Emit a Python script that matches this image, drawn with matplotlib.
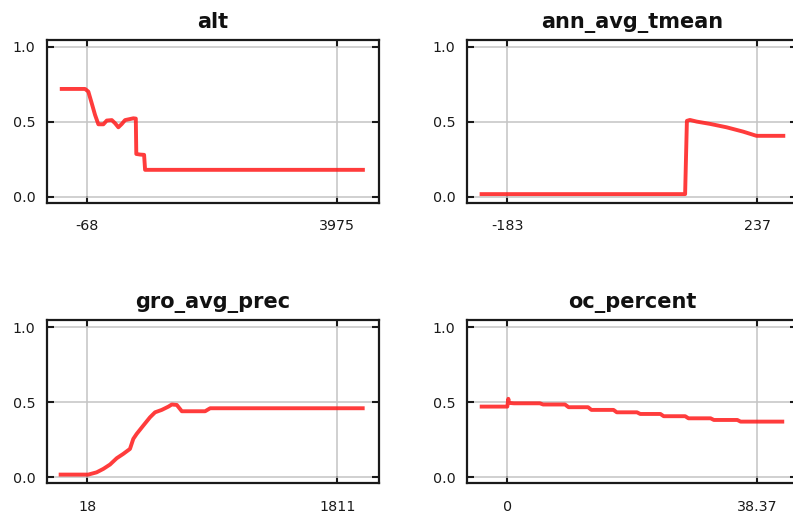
import matplotlib
matplotlib.use("Agg")
import matplotlib.pyplot as plt

plt.rcParams['font.family'] = ['DejaVu Sans']

titles = ["alt", "ann_avg_tmean", "gro_avg_prec", "oc_percent"]

alt_x = [-477, -100, -47, 8, 61, 115, 196, 251, 332, 385, 438, 493, 546, 681, 720, 728, 789, 854, 870, 4390]
alt_y = [0.718, 0.718, 0.70, 0.622, 0.545, 0.482, 0.482, 0.507, 0.51, 0.489, 0.462, 0.484, 0.51, 0.522, 0.52, 0.284, 0.28, 0.278, 0.178, 0.178]

tmean_x = [-226, 116, 119, 124, 135.5, 157.5, 185.6, 213.5, 236, 281]
tmean_y = [0.016, 0.016, 0.505, 0.511, 0.50, 0.485, 0.462, 0.433, 0.405, 0.405]

prec_x = [-173, 25, 85, 133, 181, 229, 276, 324, 348, 372, 420, 468, 504, 552, 600, 624, 660, 696, 863, 899, 1993]
prec_y = [0.018, 0.018, 0.033, 0.056, 0.085, 0.127, 0.156, 0.189, 0.256, 0.289, 0.345, 0.40, 0.433, 0.449, 0.471, 0.485, 0.482, 0.44, 0.44, 0.46, 0.46]

oc_x = [-3.93, 0.0, 0.16, 0.25, 0.45, 1.0, 5.0, 5.5, 8.86, 9.4, 12.4, 12.9, 16.3, 16.8, 19.9, 20.4, 23.5, 24.0, 27.3, 27.8, 31.2, 31.7, 35.3, 35.8, 42.2]
oc_y = [0.471, 0.471, 0.523, 0.495, 0.495, 0.493, 0.493, 0.485, 0.485, 0.467, 0.467, 0.449, 0.449, 0.433, 0.433, 0.422, 0.422, 0.407, 0.407, 0.393, 0.393, 0.382, 0.382, 0.371, 0.371]

xticks = [[-68, 3975], [-183, 237], [18, 1811], [0, 38.37]]
xticklabels = [["-68", "3975"], ["-183", "237"], ["18", "1811"], ["0", "38.37"]]
xlims = [(-720, 4655), (-251, 304), (-273, 2112), (-6.23, 44.46)]
yticks = [0.0, 0.5, 1.0]
yticklabels = ["0.0", "0.5", "1.0"]

xs = [alt_x, tmean_x, prec_x, oc_x]
ys = [alt_y, tmean_y, prec_y, oc_y]

W, H = 793, 517
fig = plt.figure(figsize=(W / 100, H / 100), dpi=100)

# pixel boxes: left, right, top, bottom
boxes = [(46.7, 379.3, 39.5, 202.5), (466.7, 797.0, 39.5, 202.5),
         (46.7, 379.3, 320.0, 483.3), (466.7, 797.0, 320.0, 483.3)]

for i in range(4):
    l, r, t, b = boxes[i]
    ax = fig.add_axes([l / W, 1 - b / H, (r - l) / W, (b - t) / H])
    ax.plot(xs[i], ys[i], color='#ff1a1a', lw=2.8, alpha=0.85, solid_joinstyle='round', zorder=3)
    ax.set_xlim(*xlims[i])
    ax.set_ylim(-0.04, 1.048)
    ax.set_xticks(xticks[i])
    ax.set_xticklabels(xticklabels[i])
    ax.set_yticks(yticks)
    ax.set_yticklabels(yticklabels)
    ax.grid(True, color='#c4c4c4', lw=1.1, zorder=0)
    ax.tick_params(direction='in', length=5, width=1.5, top=True, right=True,
                   labelsize=10.3, colors='#1a1a1a', zorder=4)
    ax.tick_params(axis='x', pad=12)
    ax.tick_params(axis='y', pad=8)
    for s in ax.spines.values():
        s.set_linewidth(1.6)
        s.set_color('#1a1a1a')
    ax.set_title(titles[i], fontsize=15, fontweight='bold', pad=8.5, color='#111111')

fig.savefig("out.png", dpi=100)
